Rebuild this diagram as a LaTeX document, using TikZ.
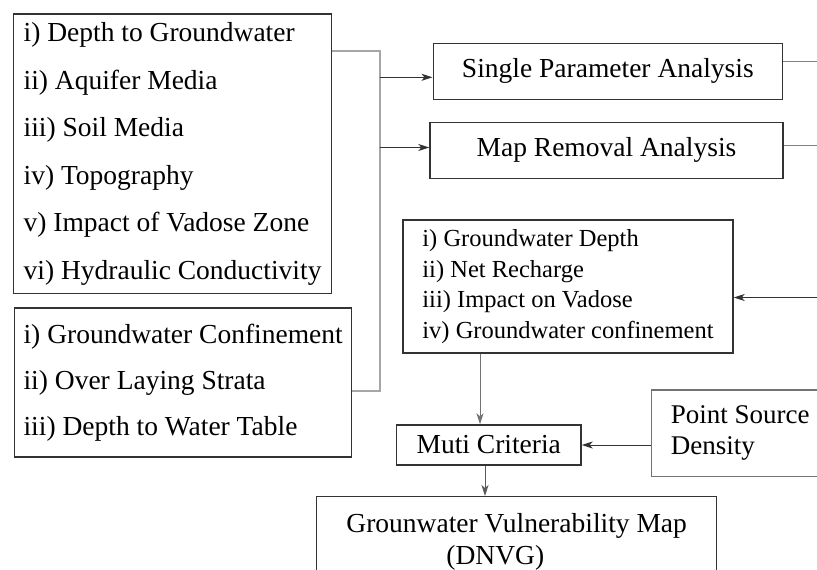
\documentclass[tikz,border=0pt]{standalone}
\usepackage{fontspec}
\setmainfont{Liberation Serif}
\usepackage{tikz}
\usetikzlibrary{arrows.meta,positioning}

\newcommand{\paramfont}{\fontsize{27.5}{47.5}\selectfont}
\newcommand{\conffont}{\fontsize{27.5}{46}\selectfont}
\newcommand{\onefont}{\fontsize{27.5}{33}\selectfont}
\newcommand{\drfont}{\fontsize{24.5}{30.7}\selectfont}
\newcommand{\psdfont}{\fontsize{27}{31}\selectfont}

\begin{document}
\begin{tikzpicture}[x=1pt, y=-1pt,
  box/.style={draw=black!80, line width=1.4pt, anchor=north west, align=left, inner sep=0pt},
  link/.style={draw=black!35, line width=1.4pt},
  stub/.style={draw=black!50, line width=1pt},
  arrow/.style={draw=black!80, line width=1pt, -{Stealth[length=11pt,width=7pt,inset=3pt]}}]
  \clip (0,0) rectangle (817,570);
  \fill[white] (0,0) rectangle (817,570);

  % 参数框
  \node[box, minimum width=318.3, minimum height=279.7, font=\paramfont] (params) at (12.7,13.3)
    {i) Depth to Groundwater\\ii) Aquifer Media\\iii) Soil Media\\iv) Topography\\v) Impact of Vadose Zone\\vi) Hydraulic Conductivity};
  \node[box, minimum width=337, minimum height=149, font=\conffont] (conf) at (14,307.3)
    {i) Groundwater Confinement\\ii) Over Laying Strata\\iii) Depth to Water Table};

  % 分析框
  \node[box, align=center, minimum width=349.3, minimum height=56.3, font=\onefont] (spa) at (432.5,42.5) {Single Parameter Analysis};
  \node[box, align=center, minimum width=353, minimum height=56, font=\onefont] (mra) at (429.3,121.7) {Map Removal Analysis};
  \node[box, minimum width=330, minimum height=133, font=\drfont] (depth) at (402.3,219.3)
    {i) Groundwater Depth\\ii) Net Recharge\\iii) Impact on Vadose\\iv) Groundwater confinement};
  \node[box, align=center, minimum width=184.5, minimum height=40, font=\onefont] (muti) at (395.8,424.3) {Muti Criteria};
  \node[box, draw=black!55, minimum width=177, minimum height=86.4, font=\psdfont] (psd) at (651,389.3) {Point Source\\Density};
  \node[box, minimum width=400, minimum height=90, font=\fontsize{27.5}{32}\selectfont] (gvm) at (316,496)
    {Grounwater Vulnerability Map\\\hspace*{100pt}(DNVG)};

  % 汇合线
  \coordinate (busTop) at (380,51);
  \coordinate (busBot) at (380,391);
  \draw[link] (params.east |- busTop) -- (busTop) -- (busBot) -- (conf.east |- busBot);
  \coordinate (tapA) at (380,77.3);
  \coordinate (tapB) at (380,147.5);
  \draw[arrow] (tapA) -- (spa.west |- tapA);
  \draw[arrow] (tapB) -- (mra.west |- tapB);

  % 右侧出线
  \coordinate (spaOut) at (817,61);
  \coordinate (mraOut) at (817,145.7);
  \coordinate (drIn) at (817,297.5);
  \draw[stub] (spa.east |- spaOut) -- (spaOut);
  \draw[stub] (mra.east |- mraOut) -- (mraOut);
  \draw[arrow] (drIn) -- (depth.east |- drIn);

  % 向下
  \coordinate (dropA) at (480,0);
  \coordinate (dropB) at (485,0);
  \draw[arrow, draw=black!55] (depth.south -| dropA) -- (muti.north -| dropA);
  \draw[arrow, draw=black!65] (muti.south -| dropB) -- (gvm.north -| dropB);
  \draw[arrow] (psd.west |- muti.east) -- (muti.east);
\end{tikzpicture}
\end{document}
